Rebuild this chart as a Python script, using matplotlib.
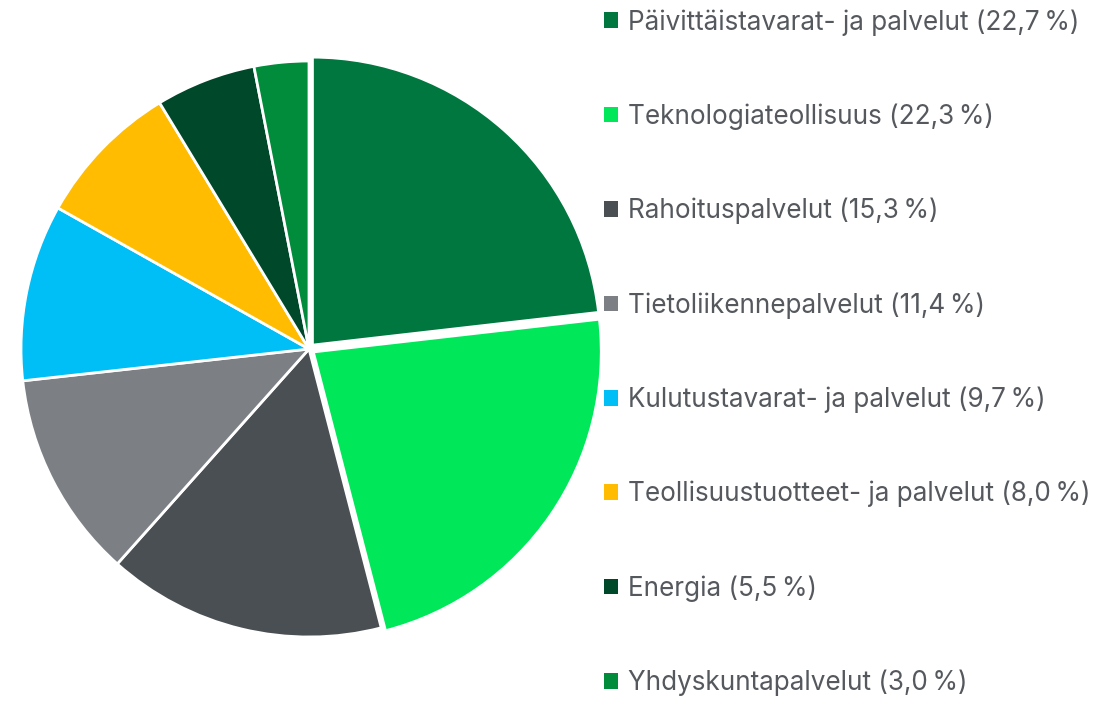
import matplotlib.pyplot as plt

labels = [
    "Päivittäistavarat- ja palvelut",
    "Teknologiateollisuus",
    "Rahoituspalvelut",
    "Tietoliikennepalvelut",
    "Kulutustavarat- ja palvelut",
    "Teollisuustuotteet- ja palvelut",
    "Energia",
    "Yhdyskuntapalvelut",
]
shares = [22.7, 22.3, 15.3, 11.4, 9.7, 8.0, 5.5, 3.0]
colors = ["#00773F", "#00E85A", "#4A4F54", "#7C8085",
          "#00BEF6", "#FFBC00", "#00482A", "#008C3A"]
explode = [0.018, 0.018, 0, 0, 0, 0, 0, 0]

W, H = 1117, 702
fig = plt.figure(figsize=(W / 100, H / 100), dpi=100)

# pie axes placed in pixel terms: centre (309, 349) from top, radius ~288 px
cx, cy, r = 309, 349, 288
half = 310
ax = fig.add_axes([(cx - half) / W, (H - cy - half) / H, 2 * half / W, 2 * half / H])
wedges, _ = ax.pie(shares, colors=colors, explode=explode, startangle=90,
                   counterclock=False, radius=1,
                   wedgeprops=dict(edgecolor="white", linewidth=2))
lim = half / r
ax.set_xlim(-lim, lim)
ax.set_ylim(-lim, lim)
ax.set_aspect("equal")
ax.axis("off")

legend_labels = [f"{l} ({str(v).replace('.', ',')}\u2009%)" for l, v in zip(labels, shares)]
leg = fig.legend(wedges, legend_labels, loc="upper left",
                 bbox_to_anchor=(604 / W, 1 - 9 / H), frameon=False,
                 prop={"family": ["Inter", "DejaVu Sans"], "size": 18.8},
                 handlelength=0.54, handleheight=0.54, handletextpad=0.38,
                 labelspacing=2.6, borderaxespad=0, borderpad=0)
for t in leg.get_texts():
    t.set_color("#55595e")
for h in leg.legend_handles:
    h.set_edgecolor("none")

fig.savefig("out.png", dpi=100)
